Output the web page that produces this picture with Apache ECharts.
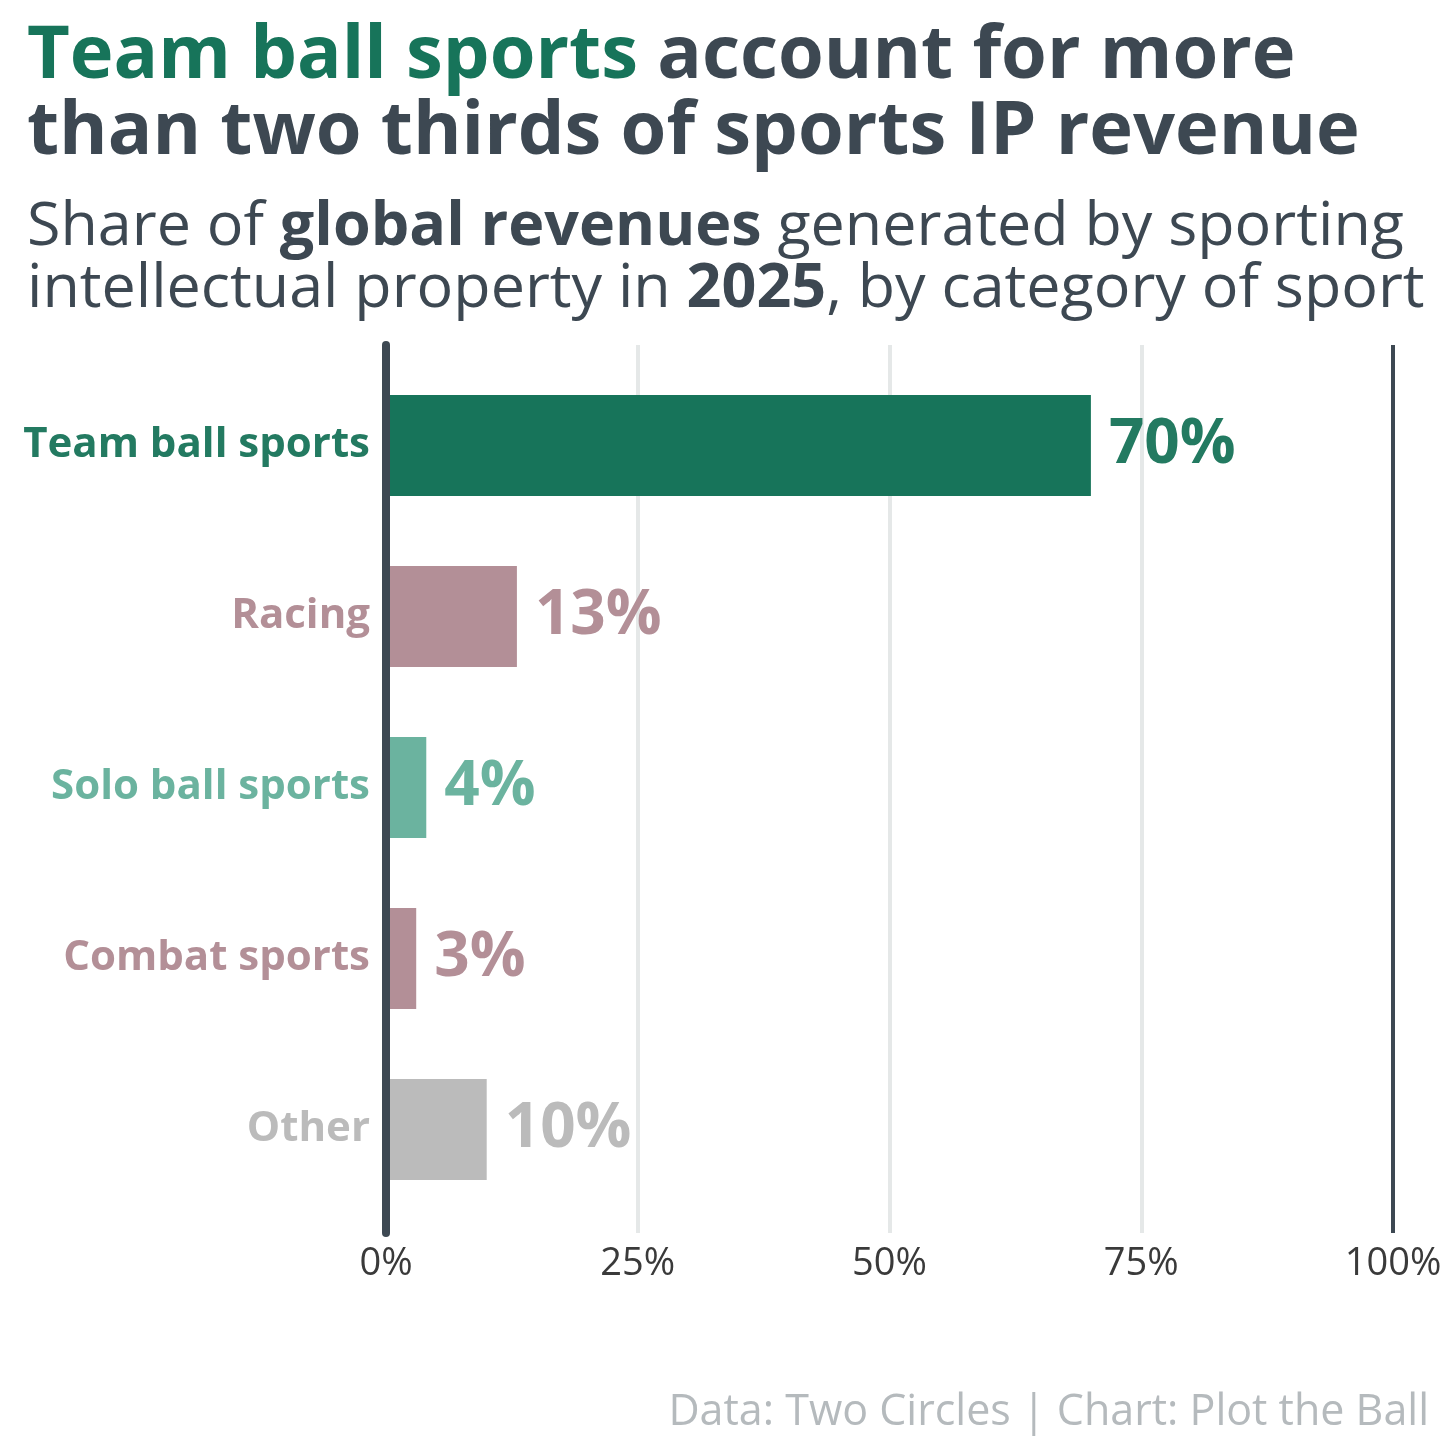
<!DOCTYPE html>
<html lang="en">
<head>
    <meta charset="utf-8" />
    <title>Sports IP revenue</title>
    <script src="https://cdn.jsdelivr.net/npm/echarts@6/dist/echarts.min.js"></script>
    <style>
        body {
            margin: 0;
            padding: 0;
            background: #ffffff;
        }

        #main {
            width: 1456px;
            height: 1456px;
        }
    </style>
</head>
<body>
<div id="main"></div>
<script type="text/javascript">
    // Data
    const categories = ['Team ball sports', 'Racing', 'Solo ball sports', 'Combat sports', 'Other'];
    const shares = [70, 13, 4, 3, 10];
    const axisTicks = [0, 25, 50, 75, 100];

    // Colours per category
    const barColors = ['#17745a', '#b38f97', '#6bb39f', '#b38f97', '#bbbbbb'];
    const labelColors = ['#237a61', '#b38f97', '#6bb39f', '#b38f97', '#bbbbbb'];

    const FONT = 'Open Sans';
    const DARK = '#3d4852';

    var myChart = echarts.init(document.getElementById('main'));

    // rich styles for category labels
    const catRich = {};
    categories.forEach((c, i) => {
        catRich['c' + i] = {
            color: labelColors[i],
            fontFamily: FONT,
            fontWeight: 'bold',
            fontSize: 42
        };
    });

    var option = {
        backgroundColor: '#ffffff',
        animation: false,
        title: [
            {
                left: 22,
                top: 14,
                text: '{g|Team ball sports }{d|account for more}\n{d|than two thirds of sports IP revenue}',
                textStyle: {
                    rich: {
                        g: {color: '#17745a', fontFamily: FONT, fontWeight: 'bold', fontSize: 74, lineHeight: 76},
                        d: {color: DARK, fontFamily: FONT, fontWeight: 'bold', fontSize: 74, lineHeight: 76}
                    }
                }
            },
            {
                left: 22,
                top: 192,
                text: '{n|Share of }{b|global revenues}{n| generated by sporting}\n{n|intellectual property in }{b|2025}{n|, by category of sport}',
                textStyle: {
                    rich: {
                        n: {color: DARK, fontFamily: FONT, fontWeight: 'normal', fontSize: 61, lineHeight: 62},
                        b: {color: DARK, fontFamily: FONT, fontWeight: 'bold', fontSize: 61, lineHeight: 62}
                    }
                }
            },
            {
                right: 22,
                top: 1386,
                text: 'Data: Two Circles | Chart: Plot the Ball',
                textStyle: {
                    color: '#b5babd',
                    fontFamily: FONT,
                    fontWeight: 'normal',
                    fontSize: 43,
                    lineHeight: 44
                }
            }
        ],
        grid: [
            {left: 386, right: 63, top: 345, bottom: 223},
            {left: 386, right: 63, top: 360, height: 855}
        ],
        xAxis: [
            {
                gridIndex: 0,
                type: 'value',
                min: axisTicks[0],
                max: axisTicks[axisTicks.length - 1],
                interval: axisTicks[1] - axisTicks[0],
                axisLine: {show: false},
                axisTick: {show: false},
                axisLabel: {
                    formatter: '{value}%',
                    color: '#3a3a3a',
                    fontFamily: FONT,
                    fontSize: 38,
                    margin: 12
                },
                splitLine: {
                    show: true,
                    lineStyle: {
                        width: 4,
                        color: ['#e5e8e8', '#e5e8e8', '#e5e8e8', '#e5e8e8', DARK]
                    }
                }
            },
            {
                gridIndex: 1,
                type: 'value',
                min: axisTicks[0],
                max: axisTicks[axisTicks.length - 1],
                show: false
            }
        ],
        yAxis: [
            {
                gridIndex: 0,
                type: 'category',
                data: categories,
                z: 10,
                axisLine: {show: true, lineStyle: {color: DARK, width: 8}},
                axisTick: {show: false},
                axisLabel: {show: false},
                splitLine: {show: false}
            },
            {
                gridIndex: 1,
                type: 'category',
                data: categories,
                inverse: true,
                axisLine: {show: false},
                axisTick: {show: false},
                axisLabel: {
                    margin: 16,
                    formatter: (val, idx) => '{c' + idx + '|' + val + '}',
                    rich: catRich
                }
            }
        ],
        series: [
            {
                name: 'Share',
                type: 'bar',
                xAxisIndex: 1,
                yAxisIndex: 1,
                barWidth: 101,
                data: shares.map((v, i) => ({
                    value: v,
                    itemStyle: {color: barColors[i]},
                    label: {color: labelColors[i]}
                })),
                label: {
                    show: true,
                    position: 'right',
                    distance: 18,
                    formatter: '{c}%',
                    fontFamily: FONT,
                    fontWeight: 'bold',
                    fontSize: 62
                }
            }
        ]
    };

    myChart.setOption(option);
</script>
</body>
</html>
